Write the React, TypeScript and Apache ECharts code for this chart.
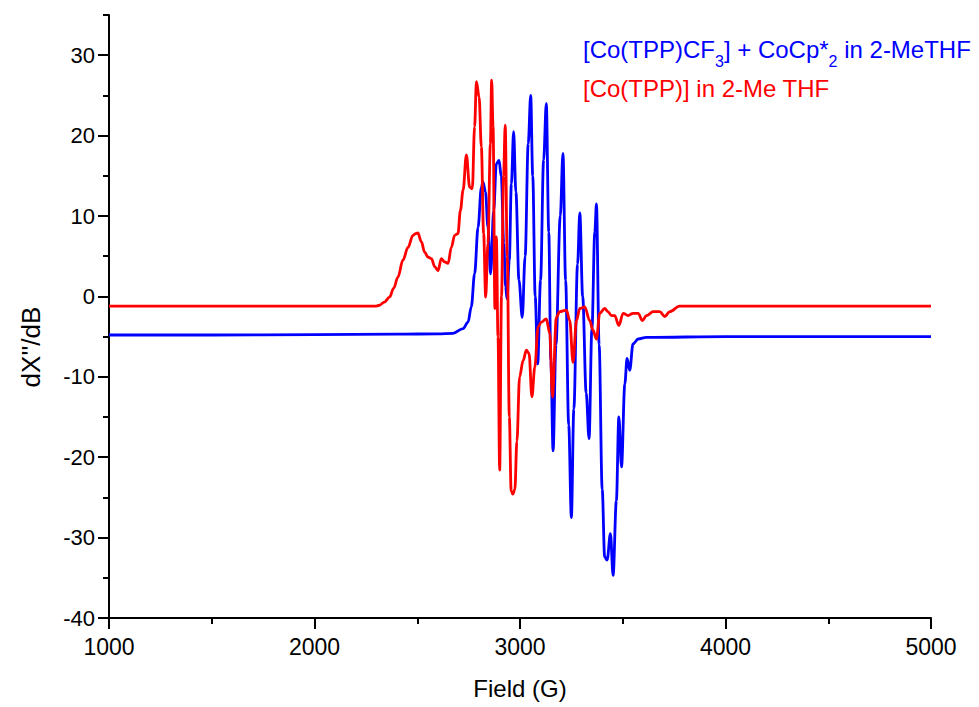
import React, { useEffect, useRef } from 'react';
import * as echarts from 'echarts';

const xTickValues = [1000, 2000, 3000, 4000, 5000];
const yMajorTicks = [-40, -30, -20, -10, 0, 10, 20, 30];
const yMinorTicks = [-35, -25, -15, -5, 5, 15, 25, 35];

const blueName = '[Co(TPP)CF3] + CoCp*2 in 2-MeTHF';
const redName = '[Co(TPP)] in 2-Me THF';
const xName = 'Field (G)';
const yName = "dX''/dB";

// [field (G), dX''/dB]
const blueSpectrum: [number, number][] = [
  [1000, -4.8], [1500, -4.8], [2000, -4.75], [2400, -4.7], [2600, -4.65], [2674, -4.6],
  [2723, -4.0], [2747, -3.2], [2763, -1.3], [2779, 2.8], [2796, 8.6], [2812, 13.6],
  [2820, 14.2], [2832, 13.0], [2844, 8.6], [2857, 2.8], [2872, 10.7], [2885, 16.5],
  [2898, 16.9], [2909, 14.9], [2921, 6.6], [2930, 1.2], [2937, -0.3], [2948, 4.5],
  [2958, 14.0], [2969, 20.5], [2980, 13.0], [2995, 2.0], [3011, -2.6], [3025, 5.0],
  [3040, 19.0], [3052, 25.0], [3062, 15.0], [3074, 0.0], [3086, -8.4], [3100, 2.0],
  [3115, 17.0], [3128, 24.0], [3140, 8.0], [3150, -8.0], [3161, -19.2], [3175, -6.0],
  [3196, 10.0], [3209, 17.8], [3222, 2.0], [3237, -16.0], [3250, -27.5], [3262, -14.0],
  [3280, 4.0], [3291, 10.4], [3305, 0.0], [3322, -12.0], [3336, -17.7], [3350, -4.0],
  [3364, 8.0], [3372, 11.5], [3385, -6.0], [3400, -24.0], [3412, -32.4], [3424, -32.8],
  [3440, -29.5], [3453, -34.7], [3469, -25.4], [3481, -15.0], [3494, -21.2], [3510, -10.9],
  [3521, -7.7], [3534, -9.2], [3550, -5.9], [3575, -5.3], [3615, -5.1], [4000, -5.0],
  [4500, -5.0], [5000, -5.0],
];

const redSpectrum: [number, number][] = [
  [1000, -1.2], [1500, -1.2], [2000, -1.2], [2300, -1.2], [2316, -1.1], [2340, -0.7],
  [2365, -0.1], [2385, 1.0], [2406, 2.4], [2430, 4.5], [2455, 6.1], [2479, 7.6],
  [2492, 7.8], [2503, 7.9], [2520, 6.8], [2536, 5.5], [2552, 4.9], [2569, 4.7],
  [2585, 3.7], [2601, 3.2], [2617, 4.7], [2633, 4.3], [2650, 4.1], [2666, 6.1],
  [2682, 7.6], [2698, 7.8], [2710, 10.7], [2723, 13.2], [2739, 17.6], [2755, 13.6],
  [2768, 13.4], [2779, 21.1], [2788, 26.7], [2801, 24.8], [2812, 18.6], [2823, 7.8],
  [2833, -0.1], [2844, 6.6], [2856, 19.0], [2862, 26.9], [2869, 21.1], [2878, -1.5],
  [2885, 7.4], [2893, -5.0], [2901, -21.6], [2910, 0.0], [2920, 15.0], [2928, 21.3],
  [2938, 5.0], [2948, -15.0], [2957, -24.2], [2965, -24.6], [2975, -24.0], [2985, -18.0],
  [2998, -10.0], [3015, -8.0], [3031, -6.7], [3044, -7.1], [3058, -12.5], [3072, -8.8],
  [3088, -3.8], [3104, -3.2], [3128, -2.8], [3145, -4.6], [3158, -12.5], [3177, -2.6],
  [3193, -1.9], [3226, -1.7], [3242, -3.0], [3258, -8.2], [3275, -3.0], [3291, -1.5],
  [3315, -1.3], [3339, -3.0], [3355, -4.2], [3372, -5.3], [3388, -2.1], [3412, -1.5],
  [3428, -1.9], [3445, -2.4], [3461, -2.4], [3481, -3.6], [3502, -2.1], [3526, -2.4],
  [3550, -2.1], [3575, -2.1], [3596, -3.0], [3615, -2.4], [3648, -1.9], [3680, -1.9],
  [3704, -2.5], [3729, -1.9], [3777, -1.2], [4000, -1.2], [4500, -1.2], [5000, -1.2],
];

const FONT = 'Liberation Sans, Arial, sans-serif';

export default function App() {
  const ref = useRef<HTMLDivElement>(null);
  useEffect(() => {
    if (!ref.current) return;
    const chart = echarts.init(ref.current, null, { renderer: 'svg' });
    const axisLineStyle = { color: '#000', width: 2 };
    chart.setOption({
      animation: false,
      backgroundColor: '#fff',
      textStyle: { fontFamily: FONT },
      grid: { left: 109, right: 48, top: 15, bottom: 89, containLabel: false },
      xAxis: {
        type: 'value',
        min: 1000,
        max: 5000,
        interval: 1000,
        name: xName,
        nameLocation: 'middle',
        nameGap: 58,
        nameTextStyle: { fontSize: 24, color: '#000', fontFamily: FONT },
        axisLine: { show: true, onZero: false, lineStyle: axisLineStyle },
        axisTick: { show: true, length: 11, lineStyle: axisLineStyle },
        minorTick: { show: true, splitNumber: 2, length: 6, lineStyle: axisLineStyle },
        axisLabel: {
          fontSize: 23, color: '#000', margin: 17, fontFamily: FONT,
          customValues: xTickValues,
          formatter: (v: number) => String(v),
        },
        splitLine: { show: false },
        minorSplitLine: { show: false },
      },
      yAxis: [
        {
          type: 'value',
          min: -40,
          max: 35,
          position: 'left',
          axisLine: { show: true, onZero: false, lineStyle: axisLineStyle },
          axisTick: { show: true, length: 11, lineStyle: axisLineStyle, customValues: yMajorTicks },
          axisLabel: {
            fontSize: 22, color: '#000', margin: 14, fontFamily: FONT,
            customValues: yMajorTicks,
            formatter: (v: number) => String(v),
          },
          splitLine: { show: false },
        },
        {
          type: 'value',
          min: -40,
          max: 35,
          position: 'left',
          offset: 0,
          axisLine: { show: false, onZero: false },
          axisTick: { show: true, length: 6, lineStyle: axisLineStyle, customValues: yMinorTicks },
          axisLabel: { show: false },
          splitLine: { show: false },
        },
      ],
      series: [
        {
          name: blueName,
          type: 'line',
          data: blueSpectrum,
          showSymbol: false,
          smooth: 0.35,
          smoothMonotone: 'x',
          lineStyle: { color: '#0000ff', width: 2.8 },
          itemStyle: { color: '#0000ff' },
          z: 2,
        },
        {
          name: redName,
          type: 'line',
          data: redSpectrum,
          showSymbol: false,
          smooth: 0.35,
          smoothMonotone: 'x',
          lineStyle: { color: '#ff0000', width: 2.8 },
          itemStyle: { color: '#ff0000' },
          z: 3,
        },
      ],
      graphic: [
        {
          type: 'text',
          x: 31,
          y: 347,
          rotation: Math.PI / 2,
          style: {
            text: yName,
            fill: '#000',
            fontSize: 26,
            fontFamily: FONT,
            align: 'center',
            verticalAlign: 'middle',
          },
        },
        {
          type: 'text',
          left: 583,
          top: 29,
          style: {
            text: '[Co(TPP)CF{sub|3}] + CoCp*{sub|2} in 2-MeTHF',
            fill: '#0000ff',
            fontSize: 24,
            fontFamily: FONT,
            lineHeight: 40,
            rich: {
              sub: { fontSize: 16, fill: '#0000ff', fontFamily: FONT, verticalAlign: 'bottom', lineHeight: 40 },
            },
          },
        },
        {
          type: 'text',
          left: 583,
          top: 76,
          style: {
            text: redName,
            fill: '#ff0000',
            fontSize: 24,
            fontFamily: FONT,
          },
        },
      ],
    });
    return () => chart.dispose();
  }, []);
  return <div ref={ref} style={{ position: 'fixed', left: 0, top: 0, width: 979, height: 707 }} />;
}
